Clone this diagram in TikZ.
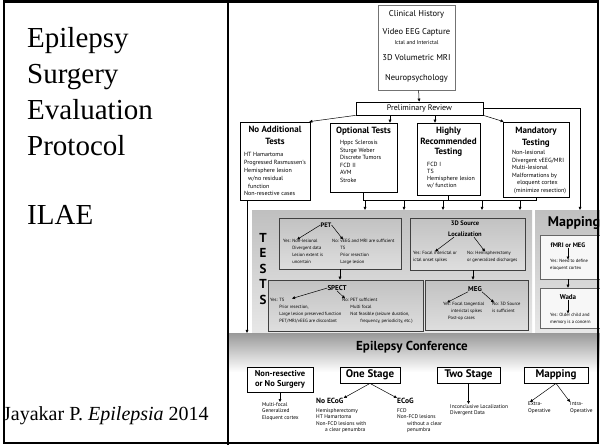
\documentclass[tikz,border=0pt]{standalone}
\usepackage{fontspec}
\setmainfont{Liberation Serif}
\newfontfamily\flowfont{PT Sans}
\usetikzlibrary{arrows.meta}

\newcommand{\fs}[2]{\fontsize{#1}{#2}\selectfont}
\newcommand{\yind}{\phantom{Yes: }}
\newcommand{\nind}{\phantom{No: }}

\begin{document}
\begin{tikzpicture}[x=1pt, y=-1pt, >={Triangle[length=3pt,width=2.8pt]}]
            \tikzset{frame/.style = {draw=black, line width=0.7pt, fill=white, inner sep=0pt}}
            \tikzset{zone/.style = {inner sep=0pt, top color=black!25, bottom color=black!9}}
            \tikzset{testbox/.style = {draw=black!75, line width=0.6pt, inner sep=0pt, top color=black!24, bottom color=black!13}}
            \tikzset{mapbox/.style = {draw=black!60, line width=0.6pt, inner sep=0pt, fill=black!3}}
            \tikzset{head/.style = {font=\flowfont\bfseries\fs{9}{11.5}, align=center, inner sep=0pt}}
            \tikzset{sub/.style = {font=\flowfont\bfseries\fs{6.5}{11}, align=center, inner sep=0pt}}
            \tikzset{stage/.style = {frame, line width=0.8pt, font=\flowfont\bfseries\fs{11}{12}, align=center}}
            \tikzset{work/.style = {font=\flowfont\fs{8.5}{10}, inner sep=0pt}}
            \tikzset{item/.style = {font=\flowfont\fs{6}{7.5}, align=left, inner sep=0pt, anchor=north west}}
            \tikzset{note/.style = {font=\flowfont\fs{4.6}{7}, align=left, inner sep=0pt, anchor=north west}}
            \tikzset{foot/.style = {font=\flowfont\fs{5.4}{6.5}, align=left, inner sep=0pt, anchor=north west}}
            \tikzset{link/.style = {->, line width=0.5pt}}
            \tikzset{bar/.style = {line width=0.5pt}}

            \useasboundingbox (0,0) rectangle (600,445);
            \clip (0,0) rectangle (600,445);
            \fill[white] (0,0) rectangle (600,445);

            % left panel
            \node[anchor=base west, inner sep=0pt, font=\fs{29}{36}] (l1) at (27,47) {Epilepsy};
            \node[anchor=base west, inner sep=0pt, font=\fs{29}{36}] (l2) at (27,83) {Surgery};
            \node[anchor=base west, inner sep=0pt, font=\fs{29}{36}] (l3) at (27,119) {Evaluation};
            \node[anchor=base west, inner sep=0pt, font=\fs{29}{36}] (l4) at (27,155) {Protocol};
            \node[anchor=base west, inner sep=0pt, font=\fs{29}{36}] (ilae) at (27,224) {ILAE};
            \node[anchor=base west, inner sep=0pt, font=\fs{20}{22}] (cite) at (3,420) {Jayakar P. \textit{Epilepsia} 2014};

            % shaded areas
            \node[zone, minimum width=280pt, minimum height=124pt] (testzone) at (392,272) {};
            \node[zone, minimum width=75pt, minimum height=124pt] (mapzone) at (572.5,272) {};
            \node[inner sep=0pt, top color=black!40, bottom color=white, minimum width=382pt, minimum height=39pt] (conf) at (419,352.5) {};

            % work-up
            \node[frame, draw=black!55, line width=0.8pt, minimum width=77pt, minimum height=85pt] (clin) at (416.5,47.5) {};
            \node[work] (hist) at (416.5,14) {Clinical History};
            \node[work] (veeg) at (416.5,32.5) {Video EEG Capture};
            \node[work, font=\flowfont\fs{5.6}{7}] (ictal) at (416.5,42.5) {Ictal and Interictal};
            \node[work] (mri) at (416.5,58) {3D Volumetric MRI};
            \node[work] (neuro) at (416.5,78) {Neuropsychology};

            \node[frame, minimum width=127pt, minimum height=13pt, font=\flowfont\fs{8}{9}] (prelim) at (419.5,108.5) {Preliminary Review};

            \node[frame, minimum width=70pt, minimum height=78pt] (noadd) at (275,161) {};
            \node[frame, minimum width=67pt, minimum height=69pt] (opt) at (363.5,157.5) {};
            \node[frame, minimum width=63pt, minimum height=72pt] (high) at (448.5,159) {};
            \node[frame, minimum width=66pt, minimum height=75pt] (mand) at (536,159.5) {};

            \node[head, anchor=north] (noaddT) at (275,126) {No Additional\\Tests};
            \node[head, anchor=north] (optT) at (363.5,127) {Optional Tests};
            \node[head, anchor=north, font=\flowfont\bfseries\fs{9}{10.5}] (highT) at (448.5,127) {Highly\\Recommended\\Testing};
            \node[head, anchor=north] (mandT) at (536,127) {Mandatory\\Testing};

            \node[item, font=\flowfont\fs{6}{7.8}] (noaddL) at (244,152.5) {HT Hamartoma\\Progressed Rasmussen's\\Hemisphere lesion\\\hspace*{4pt}w/no residual\\\hspace*{4pt}function\\Non-resective cases};
            \node[item] (optL) at (340,140.5) {Hppc Sclerosis\\Sturge Weber\\Discrete Tumors\\FCD II\\AVM\\Stroke};
            \node[item, font=\flowfont\fs{6}{7}] (highL) at (427,162.5) {FCD I\\TS\\Hemisphere lesion\\w/ function};
            \node[item] (mandL) at (512,150.5) {Non-lesional\\Divergent vEEG/MRI\\Multi-lesional\\Malformations by\\\hspace*{5pt}eloquent cortex\\\hspace*{2pt}(minimize resection)};

            \draw[link] (clin) -- (prelim);
            \draw[link] (prelim.south west) -- ([xshift=-1pt]noadd.north east);
            \draw[link] (prelim.south -| 390,0) -- (opt.north -| 390,0);
            \draw[link] (prelim.south -| 435,0) -- (high.north -| 435,0);
            \draw[link] (prelim.south east) -- ([xshift=1pt]mand.north west);
            \draw[link] (prelim.east) -| ([xshift=7.5pt]mapzone.north);

            \coordinate (bus) at (363.5,200);
            \draw[bar] (opt.south) -- (bus) -| (mand.south);
            \draw[bar] (high.south) -- (high.south |- bus);
            \draw[link] (noadd.south -| 247,0) -- (conf.north -| 247,0);
            \draw[link] (bus -| 365,0) -- (testzone.north -| 365,0);
            \draw[link] (bus -| 404,0) -- (testzone.north -| 404,0);
            \draw[link] (bus -| 443,0) -- (testzone.north -| 443,0);
            \draw[link] (bus -| 482,0) -- (testzone.north -| 482,0);
            \draw[link] (bus -| 520,0) -- (testzone.north -| 520,0);

            % tests
            \node[font=\flowfont\bfseries\fs{13}{15.5}, align=center, inner sep=0pt] (tests) at (263,269) {T\\E\\S\\T\\S};

            \node[testbox, minimum width=122pt, minimum height=51pt] (pet) at (340,243.5) {};
            \node[sub] (petT) at (326,225) {PET};
            \node[note] (petY) at (283,239.5) {Yes: Non-lesional\\\yind Divergent data\\\yind Lesion extent is\\\yind uncertain};
            \node[note] (petN) at (332,239.5) {No: vEEG and MRI are sufficient\\\nind TS\\\nind Prior resection\\\nind Large lesion};
            \draw[link] (petT.west) -- ([xshift=14pt]petY.north west);
            \draw[link] (petT.east) -- ([xshift=11pt]petN.north west);

            \node[testbox, minimum width=155pt, minimum height=51pt] (spect) at (345.5,305.5) {};
            \node[sub, font=\flowfont\bfseries\fs{7}{9}] (spectT) at (337,288) {SPECT};
            \node[note] (spectY) at (270,298.5) {Yes: TS\\\yind Prior resection,\\\yind Large lesion preserved function\\\yind PET/MRI/vEEG are discordant};
            \node[note] (spectN) at (342,298.5) {No: PET sufficient\\\nind Multi focal\\\nind Not feasible (seizure duration,\\\nind\hspace*{10pt}frequency, periodicity, etc.)};
            \draw[link] (spectT.west) -- ([xshift=22pt]spectY.north west);
            \draw[link] (spectT.south) -- ([xshift=3pt]spectN.north west);
            \draw[link] (pet.south) -- (pet.south |- spect.north);

            \node[testbox, minimum width=115pt, minimum height=52pt] (src) at (467.5,244) {};
            \node[sub, anchor=north] (srcT) at (465,221) {3D Source\\Localization};
            \node[note] (srcY) at (413,251.5) {Yes: Focal interictal or\\ictal onset spikes};
            \node[note] (srcN) at (467,251.5) {No: Hemispherectomy\\or generalized discharges};
            \draw[link] ([xshift=6pt]srcT.south west) -- ([xshift=22pt]srcY.north west);
            \draw[link] ([xshift=-8pt]srcT.south east) -- ([xshift=18pt]srcN.north west);

            \node[testbox, minimum width=103pt, minimum height=50pt] (meg) at (476.5,305) {};
            \node[sub, font=\flowfont\bfseries\fs{7}{9}] (megT) at (475,289) {MEG};
            \node[note] (megY) at (443,302.5) {Yes: Focal tangential\\\hspace*{8pt}interictal spikes\\\hspace*{5pt}Post-op cases};
            \node[note] (megN) at (492,302.5) {No: 3D Source\\is sufficient};
            \draw[link] (megT.south west) -- ([xshift=4pt]megY.north west);
            \draw[link] (megT.south east) -- ([xshift=2pt]megN.north west);
            \draw[link] ([xshift=5.5pt]src.south) -- ([xshift=5.5pt]src.south |- meg.north);

            % mapping
            \node[font=\flowfont\bfseries\fs{14}{16}, inner sep=0pt] (mapT) at (574,223) {Mapping};
            \node[mapbox, minimum width=72pt, minimum height=44pt] (fmri) at (576,257) {};
            \node[sub] (fmriT) at (568,245) {fMRI or MEG};
            \node[note] (fmriY) at (550,259.5) {Yes: Need to define\\eloquent cortex};
            \draw[link] (fmriT.south) -- (fmriT.south |- fmriY.north);
            \node[mapbox, minimum width=72pt, minimum height=40pt] (wada) at (576,308) {};
            \node[sub, font=\flowfont\bfseries\fs{7}{9}] (wadaT) at (568,297) {Wada};
            \node[note] (wadaY) at (550,313.5) {Yes: Older child and\\memory is a concern};
            \draw[link] (wadaT.south) -- (wadaT.south |- wadaY.north);
            \draw[link] (fmri.south -| fmriT.south) -- (wada.north -| fmriT.south);

            % conference
            \node[font=\flowfont\bfseries\fs{13}{15}, inner sep=0pt] (confT) at (412,347) {Epilepsy Conference};

            \node[stage, minimum width=66pt, minimum height=25pt, font=\flowfont\bfseries\fs{8.5}{10.5}] (nores) at (280,379.5) {Non-resective\\or No Surgery};
            \node[stage, minimum width=60pt, minimum height=16pt] (one) at (370,375) {One Stage};
            \node[stage, minimum width=63pt, minimum height=16pt] (two) at (468.5,375) {Two Stage};
            \node[stage, minimum width=64pt, minimum height=16pt] (mapb) at (556,375) {Mapping};

            \node[foot] (noresL) at (262,402) {Multi-focal\\Generalized\\Eloquent cortex};
            \draw[link] (nores.south) -- (nores.south |- noresL.north);

            \node[font=\flowfont\bfseries\fs{7.5}{9}, inner sep=0pt, anchor=north west] (noecog) at (316,398) {No ECoG};
            \node[font=\flowfont\bfseries\fs{7.5}{9}, inner sep=0pt, anchor=north west] (ecog) at (397,398) {ECoG};
            \node[foot] (noecogL) at (316,408) {Hemispherectomy\\HT Hamartoma\\Non-FCD lesions with\\\hspace*{9pt}a clear penumbra};
            \node[foot] (ecogL) at (397,408) {FCD\\Non-FCD lesions\\\hspace*{10pt}without a clear\\\hspace*{10pt}penumbra};
            \draw[link] (one.south) -- (noecog.north east);
            \draw[link] (one.south) -- (ecog.north west);

            \node[foot] (twoL) at (450,404) {Inconclusive Localization\\Divergent Data};
            \draw[link] (two.south) -- (two.south |- twoL.north);

            \node[foot] (extra) at (528,402) {Extra-\\Operative};
            \node[foot] (intra) at (570,402) {Intra-\\Operative};
            \draw[link] (mapb.south) -- ([xshift=2pt]extra.north west);
            \draw[link] (mapb.south) -- (intra.north west);

            % borders
            \draw[line width=1.2pt] (228,0) -- (228,445);
            \draw[line width=2.5pt] (4,1.5) rectangle (598,443);
\end{tikzpicture}
\end{document}
